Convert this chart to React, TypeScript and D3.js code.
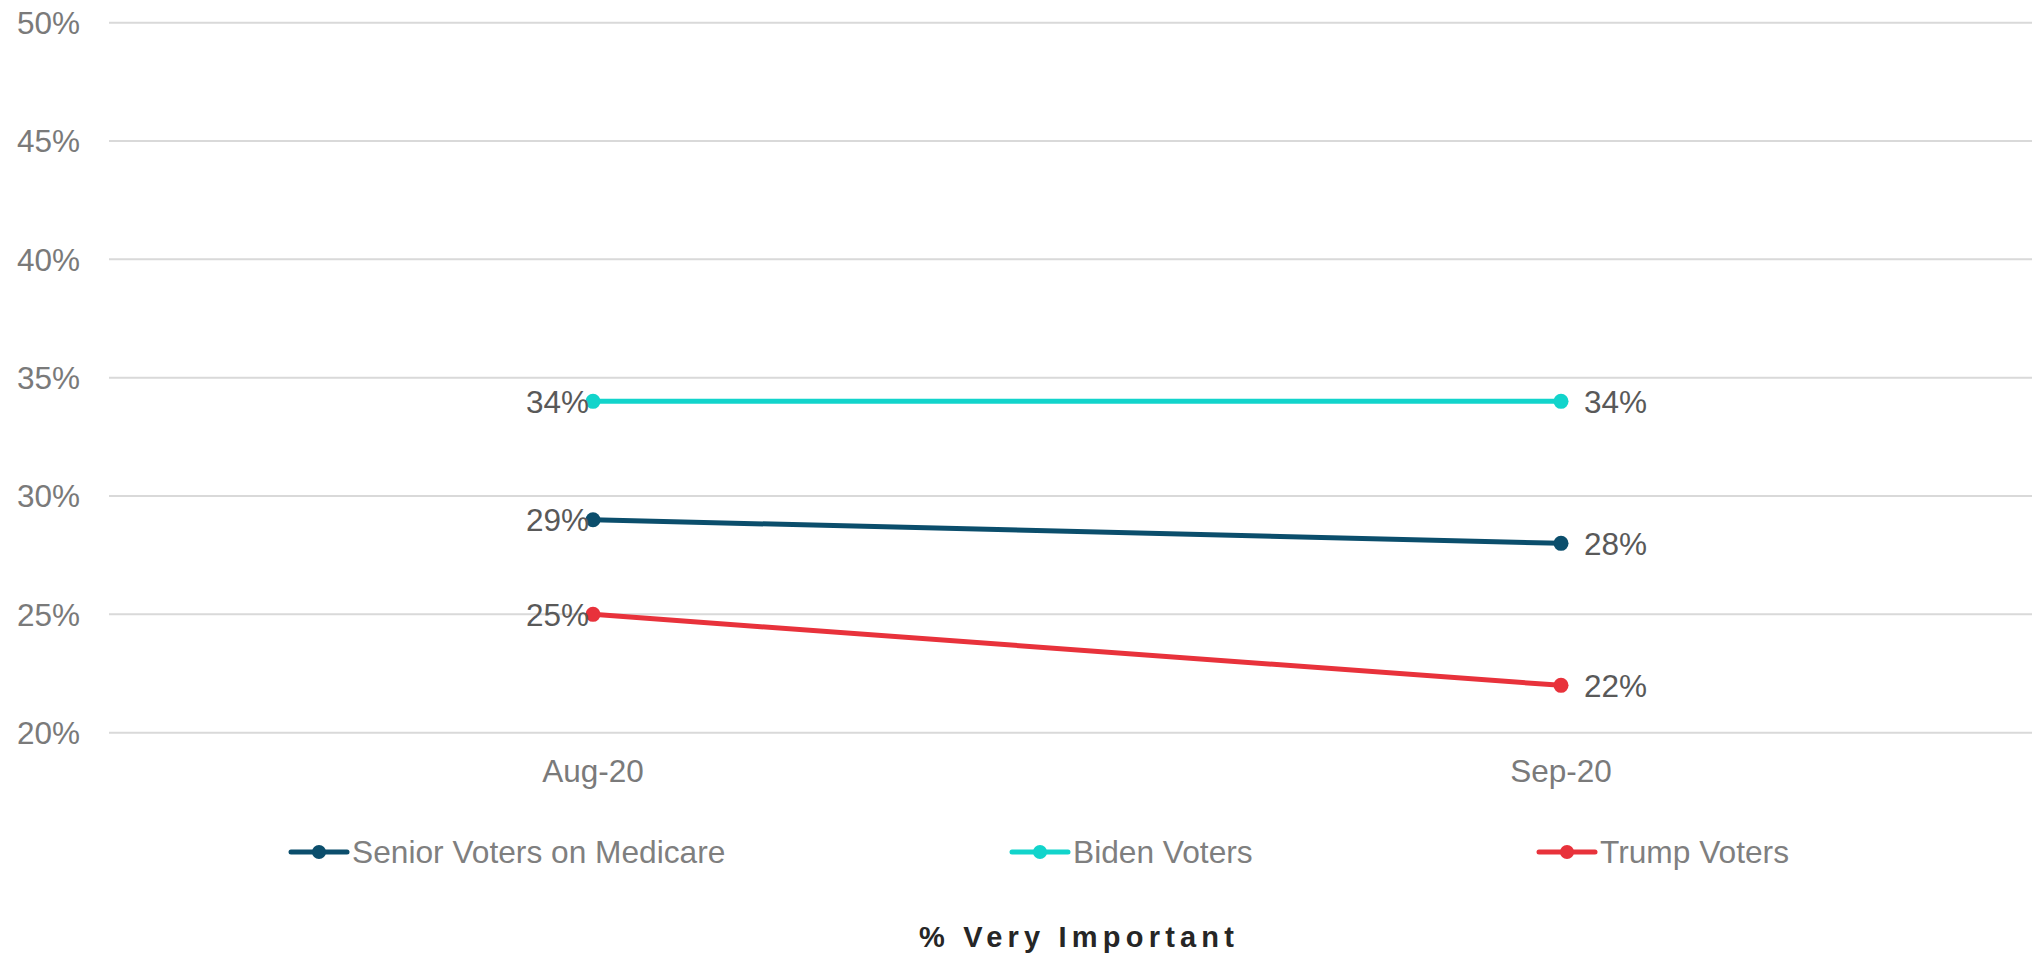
import React from "react";
import * as d3 from "d3";

const categories = ["Aug-20", "Sep-20"];
const seriesNames = ["Senior Voters on Medicare", "Biden Voters", "Trump Voters"];
const seniorValues = [29, 28];
const bidenValues = [34, 34];
const trumpValues = [25, 22];
const yTicks = [20, 25, 30, 35, 40, 45, 50];
const seriesColors = ["#0B4E6C", "#12D4CB", "#E8323B"];
const title = "% Very Important";

const W = 2032;
const H = 956;
const FONT = "'Liberation Sans', Arial, Helvetica, sans-serif";

export default function App() {
  const x = d3.scalePoint<string>().domain(categories).range([109, 2045]).padding(0.5);
  const y = d3.scaleLinear().domain([20, 50]).range([732.7, 22.7]);
  const series = [seniorValues, bidenValues, trumpValues];
  const line = d3
    .line<number>()
    .x((_, i) => x(categories[i]) as number)
    .y((d) => y(d));
  const legendX = [291, 1012, 1539];

  return (
    <svg
      width={W}
      height={H}
      style={{ position: "absolute", left: 0, top: 0, background: "#fff" }}
      fontFamily={FONT}
    >
      {yTicks.map((t) => (
        <g key={t}>
          <line x1={109} x2={W} y1={y(t)} y2={y(t)} stroke="#d9d9d9" strokeWidth={2} />
          <text x={80} y={y(t)} dy="0.36em" textAnchor="end" fontSize={31.5} fill="#7a7a7a">
            {t}%
          </text>
        </g>
      ))}
      {categories.map((c) => (
        <text key={c} x={x(c)} y={782} textAnchor="middle" fontSize={31.5} fill="#7a7a7a">
          {c}
        </text>
      ))}
      {series.map((vals, si) => (
        <g key={si}>
          <path d={line(vals) || ""} fill="none" stroke={seriesColors[si]} strokeWidth={5} />
          {vals.map((v, i) => (
            <circle key={i} cx={x(categories[i])} cy={y(v)} r={7.5} fill={seriesColors[si]} />
          ))}
          {vals.map((v, i) => (
            <text
              key={"l" + i}
              x={i === 0 ? (x(categories[i]) as number) - 4 : (x(categories[i]) as number) + 23}
              y={y(v)}
              dy="0.36em"
              textAnchor={i === 0 ? "end" : "start"}
              fontSize={31.5}
              fill="#595959"
            >
              {v}%
            </text>
          ))}
        </g>
      ))}
      {seriesNames.map((n, i) => (
        <g key={n}>
          <line
            x1={legendX[i]}
            x2={legendX[i] + 56}
            y1={852}
            y2={852}
            stroke={seriesColors[i]}
            strokeWidth={5}
            strokeLinecap="round"
          />
          <circle cx={legendX[i] + 28} cy={852} r={7} fill={seriesColors[i]} />
          <text x={legendX[i] + 61} y={852} dy="0.36em" fontSize={31.7} fill="#7f7f7f">
            {n}
          </text>
        </g>
      ))}
      <text
        x={1076.5 + 2.6}
        y={947}
        textAnchor="middle"
        fontSize={29}
        fontWeight="bold"
        letterSpacing={5.2}
        fill="#262626"
      >
        {title}
      </text>
    </svg>
  );
}
